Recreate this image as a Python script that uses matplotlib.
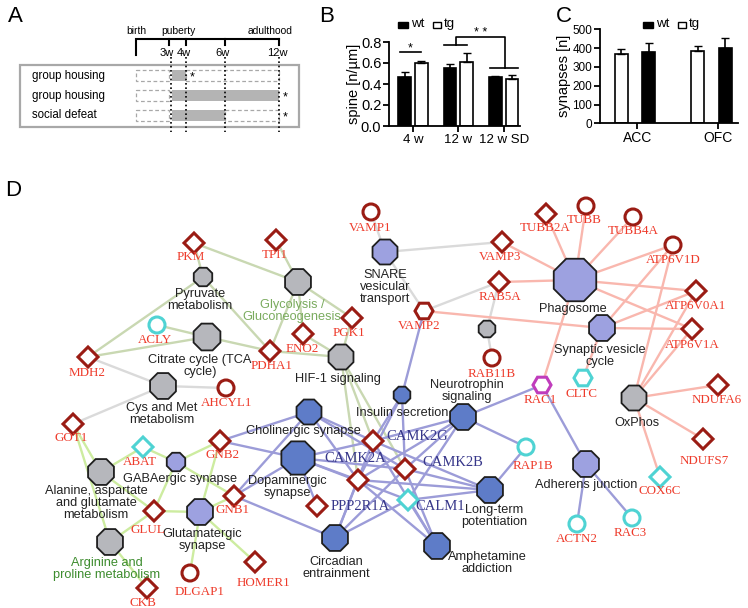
'''
Recreate figure: housing timeline, spine density, synapse counts, pathway network.
'''

import numpy as np
import matplotlib.pyplot as plt
from matplotlib.patches import RegularPolygon, Circle, Rectangle

plt.rcParams['font.family'] = ['Liberation Sans', 'DejaVu Sans']

W, H = 748, 608

# ---- panel A: housing schedule (weeks) ----
week_labels = ['3w', '4w', '6w', '12w']
weeks = [3, 4, 6, 12]
rows = ['group housing', 'group housing', 'social defeat']
row_start = [3, 3, 3]
row_end = [4, 12, 6]

# ---- panel B: spine density ----
b_groups = ['4 w', '12 w', '12 w SD']
b_wt = [0.464, 0.555, 0.464]
b_wt_err = [0.047, 0.035, 0.015]
b_tg = [0.597, 0.612, 0.448]
b_tg_err = [0.025, 0.08, 0.038]

# ---- panel C: synapse counts ----
c_regions = ['ACC', 'OFC']
c_white = [367, 385]
c_white_err = [27, 25]
c_black = [379, 401]
c_black_err = [48, 53]

# ---- panel D: network ----
path_label = {
  'Pyruvate': 'Pyruvate\nmetabolism', 'Glycolysis': 'Glycolysis /\nGluconeogenesis',
  'Citrate': 'Citrate cycle (TCA\ncycle)', 'HIF1': 'HIF-1 signaling', 'CysMet': 'Cys and Met\nmetabolism',
  'SNARE': 'SNARE\nvesicular\ntransport', 'RabHub': '', 'Phagosome': 'Phagosome',
  'SynVes': 'Synaptic vesicle\ncycle', 'OxPhos': 'OxPhos', 'Neurotrophin': 'Neurotrophin\nsignaling',
  'Insulin': 'Insulin secretion', 'Cholinergic': 'Cholinergic synapse', 'Dopaminergic': 'Dopaminergic\nsynapse',
  'LTP': 'Long-term\npotentiation', 'Circadian': 'Circadian\nentrainment', 'Amphetamine': 'Amphetamine\naddiction',
  'Adherens': 'Adherens junction', 'GABAergic': 'GABAergic synapse', 'Glutamatergic': 'Glutamatergic\nsynapse',
  'Alanine': 'Alanine, aspartate\nand glutamate\nmetabolism', 'Arginine': 'Arginine and\nproline metabolism',
}
path_group = {
  'Pyruvate': 'metab', 'Glycolysis': 'metab', 'Citrate': 'metab', 'HIF1': 'metab', 'CysMet': 'metab',
  'SNARE': 'vesicle', 'RabHub': 'metab', 'Phagosome': 'vesicle', 'SynVes': 'vesicle', 'OxPhos': 'metab',
  'Neurotrophin': 'signal', 'Insulin': 'signal', 'Cholinergic': 'signal', 'Dopaminergic': 'signal',
  'LTP': 'signal', 'Circadian': 'signal', 'Amphetamine': 'signal', 'Adherens': 'vesicle',
  'GABAergic': 'vesicle', 'Glutamatergic': 'vesicle', 'Alanine': 'metab', 'Arginine': 'metab',
}
gene_shape = {
  'VAMP1': 'c', 'PKM': 'd', 'TPI1': 'd', 'TUBB2A': 'd', 'TUBB': 'c', 'TUBB4A': 'c', 'ATP6V1D': 'c',
  'VAMP3': 'd', 'RAB5A': 'd', 'ATP6V0A1': 'd', 'ATP6V1A': 'd', 'VAMP2': 'h', 'RAB11B': 'c',
  'RAC1': 'h', 'CLTC': 'h', 'NDUFA6': 'd', 'NDUFS7': 'd', 'COX6C': 'd', 'RAP1B': 'c', 'ACTN2': 'c',
  'RAC3': 'c', 'ACLY': 'c', 'MDH2': 'd', 'PGK1': 'd', 'ENO2': 'd', 'PDHA1': 'd', 'AHCYL1': 'c',
  'GOT1': 'd', 'ABAT': 'd', 'GNB2': 'd', 'GNB1': 'd', 'GLUL': 'd', 'DLGAP1': 'c', 'CKB': 'd',
  'HOMER1': 'd', 'CAMK2G': 'd', 'CAMK2A': 'd', 'CAMK2B': 'd', 'PPP2R1A': 'd', 'CALM1': 'd',
}
gene_cyan = ['CLTC', 'COX6C', 'RAP1B', 'ACTN2', 'RAC3', 'ACLY', 'ABAT', 'CALM1']
gene_magenta = ['RAC1']
gene_dark_label = ['CAMK2G', 'CAMK2A', 'CAMK2B', 'PPP2R1A', 'CALM1']

edges_metab = [('PKM', 'Pyruvate'), ('PKM', 'Glycolysis'), ('TPI1', 'Glycolysis'), ('Pyruvate', 'MDH2'),
  ('Pyruvate', 'PDHA1'), ('ACLY', 'Citrate'), ('MDH2', 'Citrate'), ('Citrate', 'PDHA1'),
  ('Glycolysis', 'PDHA1'), ('Glycolysis', 'ENO2'), ('Glycolysis', 'PGK1'), ('HIF1', 'PDHA1'),
  ('HIF1', 'ENO2'), ('HIF1', 'PGK1'), ('HIF1', 'CAMK2G'), ('HIF1', 'CAMK2A'), ('HIF1', 'CAMK2B')]
edges_gray = [('MDH2', 'CysMet'), ('CysMet', 'AHCYL1'), ('CysMet', 'GOT1'), ('VAMP1', 'SNARE'),
  ('SNARE', 'VAMP3'), ('SNARE', 'VAMP2'), ('VAMP2', 'RAB5A'), ('RAB5A', 'RabHub'), ('RabHub', 'RAB11B')]
edges_gaba = [('GOT1', 'Alanine'), ('GOT1', 'Arginine'), ('ABAT', 'Alanine'), ('ABAT', 'GABAergic'),
  ('GABAergic', 'GNB2'), ('GABAergic', 'GNB1'), ('GABAergic', 'GLUL'), ('Alanine', 'GLUL'),
  ('GLUL', 'Glutamatergic'), ('GLUL', 'Arginine'), ('Glutamatergic', 'GNB2'), ('Glutamatergic', 'GNB1'),
  ('Glutamatergic', 'DLGAP1'), ('Glutamatergic', 'HOMER1'), ('Arginine', 'CKB')]
edges_signal = [(p, g) for p, gs in {
  'Cholinergic': ['GNB2', 'GNB1', 'CAMK2G', 'CAMK2A', 'CAMK2B'],
  'Dopaminergic': ['GNB2', 'GNB1', 'CAMK2G', 'CAMK2A', 'CAMK2B', 'PPP2R1A', 'CALM1'],
  'Circadian': ['GNB1', 'CAMK2G', 'CAMK2A', 'CAMK2B', 'CALM1'],
  'LTP': ['CAMK2G', 'CAMK2A', 'CAMK2B', 'CALM1', 'RAP1B'],
  'Amphetamine': ['CAMK2G', 'CAMK2A', 'CAMK2B', 'CALM1'],
  'Insulin': ['VAMP2', 'CAMK2G', 'CAMK2A', 'CAMK2B'],
  'Neurotrophin': ['CAMK2G', 'CAMK2A', 'CAMK2B', 'CALM1', 'RAP1B', 'RAC1'],
  'Adherens': ['RAC1', 'ACTN2', 'RAC3']}.items() for g in gs]
edges_vesicle = [(p, g) for p, gs in {
  'Phagosome': ['TUBB2A', 'TUBB', 'TUBB4A', 'ATP6V1D', 'VAMP3', 'RAB5A', 'ATP6V0A1', 'ATP6V1A', 'RAC1'],
  'SynVes': ['VAMP2', 'ATP6V1D', 'ATP6V0A1', 'ATP6V1A', 'CLTC'],
  'OxPhos': ['ATP6V1D', 'ATP6V0A1', 'ATP6V1A', 'NDUFA6', 'NDUFS7', 'COX6C']}.items() for g in gs]

# layout (pixel positions of the drawn network), node radius, label anchor
layout = {
  'Pyruvate': (203, 277, 10, 200, 300), 'Glycolysis': (298, 282, 14, 292, 311),
  'Citrate': (207, 337, 14.5, 200, 366), 'HIF1': (341, 357, 13.5, 338, 379),
  'CysMet': (163, 386, 14, 162, 414), 'SNARE': (385, 252, 13.5, 385, 287),
  'RabHub': (487, 329, 9, 0, 0), 'Phagosome': (575, 280, 23, 573, 309),
  'SynVes': (602, 328, 14, 600, 356), 'OxPhos': (634, 398, 13.5, 637, 423),
  'Neurotrophin': (463, 417, 14, 467, 391), 'Insulin': (402, 395, 9, 402, 413),
  'Cholinergic': (309, 412, 13.5, 303, 431), 'Dopaminergic': (298, 458, 18, 287, 487),
  'LTP': (490, 490, 14, 494, 516), 'Circadian': (335, 538, 14, 336, 568),
  'Amphetamine': (437, 546, 14, 487, 563), 'Adherens': (586, 464, 14, 586, 485),
  'GABAergic': (176, 462, 10, 180, 479), 'Glutamatergic': (200, 512, 14, 202, 540),
  'Alanine': (101, 472, 14, 96, 503), 'Arginine': (110, 542, 14, 107, 569),
  'VAMP1': (371, 212, 0, 370, 228), 'PKM': (194, 243, 0, 191, 257), 'TPI1': (276, 240, 0, 275, 255),
  'TUBB2A': (546, 214, 0, 545, 228), 'TUBB': (586, 206, 0, 584, 220), 'TUBB4A': (633, 217, 0, 633, 231),
  'ATP6V1D': (673, 245, 0, 673, 260), 'VAMP3': (502, 242, 0, 500, 257), 'RAB5A': (499, 282, 0, 500, 297),
  'ATP6V0A1': (696, 291, 0, 696, 306), 'ATP6V1A': (692, 329, 0, 692, 345), 'VAMP2': (424, 311, 0, 419, 326),
  'RAB11B': (492, 358, 0, 492, 374), 'RAC1': (542, 385, 0, 540, 400), 'CLTC': (583, 378, 0, 582, 394),
  'NDUFA6': (718, 385, 0, 717, 400), 'NDUFS7': (703, 439, 0, 704, 461), 'COX6C': (660, 477, 0, 660, 491),
  'RAP1B': (526, 447, 0, 533, 466), 'ACTN2': (577, 524, 0, 577, 539), 'RAC3': (632, 518, 0, 630, 533),
  'ACLY': (157, 325, 0, 155, 340), 'MDH2': (88, 357, 0, 87, 373), 'PGK1': (352, 318, 0, 349, 333),
  'ENO2': (303, 334, 0, 302, 349), 'PDHA1': (270, 351, 0, 272, 366), 'AHCYL1': (226, 388, 0, 227, 403),
  'GOT1': (73, 424, 0, 71, 438), 'ABAT': (143, 447, 0, 140, 462), 'GNB2': (220, 441, 0, 223, 455),
  'GNB1': (234, 496, 0, 233, 510), 'GLUL': (154, 511, 0, 148, 530), 'DLGAP1': (190, 573, 0, 200, 592),
  'CKB': (147, 588, 0, 143, 603), 'HOMER1': (255, 562, 0, 263, 583), 'CAMK2G': (373, 441, 0, 417, 437),
  'CAMK2A': (358, 480, 0, 355, 459), 'CAMK2B': (405, 469, 0, 453, 463), 'PPP2R1A': (317, 506, 0, 360, 507),
  'CALM1': (408, 500, 0, 440, 507),
}

fig = plt.figure(figsize=(W / 100, H / 100), dpi=100)
ax = fig.add_axes([0, 0, 1, 1])
ax.set_xlim(0, W)
ax.set_ylim(H, 0)
ax.axis('off')

for x, y, s in [(8, 16, 'A'), (319, 16, 'B'), (556, 16, 'C'), (5, 191, 'D')]:
  ax.text(x, y, s, fontsize=16, va='center', ha='left')

# ---- A ----
tl_w = [0, 3, 4, 6, 12]
tl_x = [136, 169, 186, 225, 279]
wx = lambda w: np.interp(w, tl_w, tl_x)
ax.plot([136, 136, 279], [55, 39, 39], c='black', lw=1.5, solid_joinstyle='miter')
for w, lab in zip(weeks, week_labels):
  ax.plot([wx(w), wx(w)], [39, 45], c='black', lw=1.5)
  ax.text(wx(w) - 2, 53, lab, fontsize=8, ha='center', va='center')
  ax.plot([wx(w) + (2 if w == 3 else 0)] * 2, [57, 132], c='black', lw=1.2, ls=(0, (1, 1.6)))
ax.text(136, 31, 'birth', fontsize=7.4, ha='center', va='center')
ax.text(178, 31, 'puberty', fontsize=7.4, ha='center', va='center')
ax.text(270, 31, 'adulthood', fontsize=7.4, ha='center', va='center')
ax.add_patch(Rectangle((20, 65), 279, 62, fill=False, ec='#a8a8a8', lw=1.6))
for i, (lab, s, e) in enumerate(zip(rows, row_start, row_end)):
  yc = 75.5 + 20 * i
  ax.text(32, yc, lab, fontsize=8.3, va='center', ha='left')
  ax.add_patch(Rectangle((136, yc - 5.5), wx(s) - 136, 11, fill=False, ec='#a8a8a8', lw=0.9, ls=(0, (3, 2))))
  ax.add_patch(Rectangle((wx(s) + 3, yc - 5.5), wx(e) - wx(s) - 3, 11, color='#b4b4b4', lw=0))
  if e < 12:
    ax.add_patch(Rectangle((wx(e), yc - 5.5), wx(12) - wx(e), 11, fill=False, ec='#a8a8a8', lw=0.9,
                           ls=(0, (3, 2))))
  sx = wx(e) + 6 if i == 0 else wx(12) + 6
  ax.text(sx, yc + 2, '*', fontsize=9, ha='center', va='center')

# ---- D edges ----
edge_sets = [(edges_gray, '#dadada'), (edges_metab, '#c9d8b2'), (edges_gaba, '#cdeca0'),
             (edges_vesicle, '#f9b7ae'), (edges_signal, '#9c9cd8')]
for edges, col in edge_sets:
  for a, b in edges:
    ax.plot([layout[a][0], layout[b][0]], [layout[a][1], layout[b][1]], c=col, lw=1.7, zorder=1,
            solid_capstyle='round')

# ---- D nodes ----
fills = {'metab': '#b6b7bc', 'vesicle': '#9da1e0', 'signal': '#5e7cc8'}
for name, grp in path_group.items():
  x, y, r, lx, ly = layout[name]
  ax.add_patch(RegularPolygon((x, y), 8, radius=r, orientation=np.pi / 8, fc=fills[grp], ec='#1e1e1e',
                              lw=1.3, zorder=2))
  if path_label[name]:
    col = '#222222'
    if name == 'Glycolysis': col = '#7aab5e'
    if name == 'Arginine': col = '#3d8c2e'
    ax.text(lx, ly, path_label[name], fontsize=9.2, ha='center', va='center', color=col,
            linespacing=1.05, zorder=3)

for name, shp in gene_shape.items():
  x, y, _, lx, ly = layout[name]
  ec = '#4fd3d3' if name in gene_cyan else '#c03cbc' if name in gene_magenta else '#9a1c14'
  if shp == 'd':
    p = RegularPolygon((x, y), 4, radius=10, orientation=0)
  elif shp == 'c':
    p = Circle((x, y), 8)
  else:
    p = RegularPolygon((x, y), 6, radius=9, orientation=np.pi / 6)
  p.set(fc='white', ec=ec, lw=2.2, zorder=2)
  ax.add_patch(p)
  if name in gene_dark_label:
    ax.text(lx, ly, name, fontsize=10.5, family='Liberation Serif', color='#37378a', ha='center',
            va='center', zorder=3)
  else:
    ax.text(lx, ly, name, fontsize=9.4, family='Liberation Serif', color='#ee3b2b', ha='center',
            va='center', zorder=3)

# ---- B ----
axb = fig.add_axes([389 / W, 1 - 126 / H, 131 / W, 84 / H])
xb = np.arange(len(b_groups))
off, bw = 0.183, 0.28
axb.bar(xb - off, b_wt, bw, color='black', ec='black', lw=1.2)
axb.bar(xb + off, b_tg, bw, color='white', ec='black', lw=1.2)
axb.errorbar(xb - off, b_wt, yerr=[np.zeros(3), b_wt_err], fmt='none', ecolor='black', elinewidth=1.2, capsize=3)
axb.errorbar(xb + off, b_tg, yerr=[np.zeros(3), b_tg_err], fmt='none', ecolor='black', elinewidth=1.2, capsize=3)
axb.set_xlim(-0.528, 2.36)
axb.set_ylim(0, 0.8)
axb.set_yticks([0, 0.2, 0.4, 0.6, 0.8])
axb.set_yticklabels(['0.0', '0.2', '0.4', '0.6', '0.8'], fontsize=10.5)
axb.set_xticks(xb)
axb.set_xticklabels(b_groups, fontsize=9.5)
axb.set_ylabel('spine [n/µm]', fontsize=10.5, labelpad=0)
for s in ['top', 'right']: axb.spines[s].set_visible(False)
for s in ['left', 'bottom']: axb.spines[s].set_linewidth(1.3)
axb.tick_params(width=1.3, length=4, pad=1.5)
axb.patch.set_alpha(0)

# B legend + significance (pixel overlay)
ax.add_patch(Rectangle((398, 21.5), 10, 6, color='black'))
ax.text(411, 24, 'wt', fontsize=9.5, va='center')
ax.add_patch(Rectangle((433, 21.5), 8, 6, fc='white', ec='black', lw=1))
ax.text(444, 24, 'tg', fontsize=9.5, va='center')
ax.plot([400, 421], [52, 52], c='black', lw=1.2)
ax.text(410.5, 48, '*', fontsize=9, ha='center', va='center')
ax.plot([444, 467], [45, 45], c='black', lw=1.2)
ax.plot([456, 456, 505, 505], [45, 37, 37, 68], c='black', lw=1.2)
ax.plot([490, 518], [68, 68], c='black', lw=1.2)
ax.text(481, 33, '* *', fontsize=9, ha='center', va='center')

# ---- C ----
axc = fig.add_axes([600 / W, 1 - 123.3 / H, 138 / W, 94 / H])
xc = np.arange(len(c_regions))
off, bw = 0.18, 0.17
axc.bar(xc - off, c_white, bw, color='white', ec='black', lw=1.2)
axc.bar(xc + off, c_black, bw, color='black', ec='black', lw=1.2)
axc.errorbar(xc - off, c_white, yerr=[np.zeros(2), c_white_err], fmt='none', ecolor='black', elinewidth=1.2, capsize=3)
axc.errorbar(xc + off, c_black, yerr=[np.zeros(2), c_black_err], fmt='none', ecolor='black', elinewidth=1.2, capsize=3)
axc.set_xlim(-0.457, 1.345)
axc.set_ylim(0, 500)
axc.set_yticks(range(0, 501, 100))
axc.tick_params(axis='y', labelsize=8.5)
axc.set_xticks(xc + [0.03, 0.08])
axc.set_xticklabels(c_regions, fontsize=10)
axc.set_ylabel('synapses [n]', fontsize=10.5, labelpad=1)
for s in ['top', 'right']: axc.spines[s].set_visible(False)
for s in ['left', 'bottom']: axc.spines[s].set_linewidth(1.3)
axc.tick_params(width=1.3, length=4, pad=1.5)
axc.patch.set_alpha(0)

ax.add_patch(Rectangle((643, 21.5), 10, 6, color='black'))
ax.text(656, 24, 'wt', fontsize=9.5, va='center')
ax.add_patch(Rectangle((678, 21.5), 8, 6, fc='white', ec='black', lw=1))
ax.text(689, 24, 'tg', fontsize=9.5, va='center')

fig.savefig('out.png', dpi=100)
